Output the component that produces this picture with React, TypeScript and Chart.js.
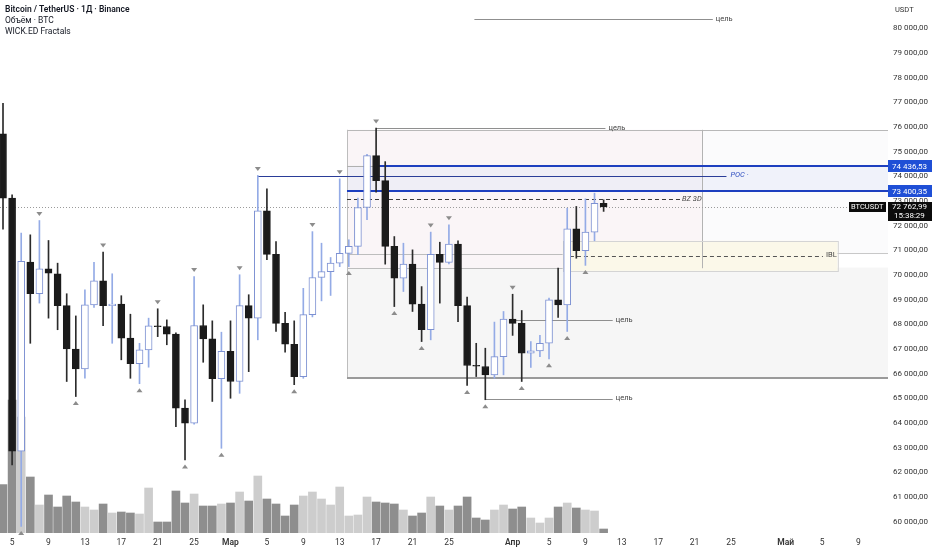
import React, { useEffect, useRef } from 'react';
import { Chart, registerables } from 'chart.js';

Chart.register(...registerables);

// ---- data (daily candles, 4 Feb → 11 Apr) ----
const dayTicks = [1, 5, 9, 13, 17, 21, 25, 29, 33, 37, 41, 45, 49, 56, 60, 64, 68, 72, 76, 80, 86, 90, 94];
const dayTickLabels = ['5', '9', '13', '17', '21', '25', 'Мар', '5', '9', '13', '17', '21', '25', 'Апр', '5', '9', '13', '17', '21', '25', 'Май', '5', '9'];
const priceTicks = [60000, 61000, 62000, 63000, 64000, 65000, 66000, 67000, 68000, 69000, 70000, 71000, 72000, 73000, 74000, 75000, 76000, 77000, 78000, 79000, 80000];

const openP = [75730, 73120, 62850, 70520, 69240, 70250, 70050, 68760, 67000, 66190, 68790, 69760, 68760, 68820, 67440, 66400, 66960, 67940, 67910, 67600, 64600, 63990, 67950, 67410, 65790, 66900, 65680, 68760, 68250, 72600, 70840, 68040, 67190, 65880, 68390, 69900, 70140, 70480, 70880, 71160, 72740, 74840, 73830, 71160, 69870, 70440, 68820, 67780, 70840, 70510, 71250, 68760, 66330, 66290, 65950, 66690, 68210, 68040, 66830, 66920, 67230, 68990, 68790, 71870, 70990, 71740, 72910];
const highP = [76960, 73250, 71700, 71630, 72210, 71400, 70480, 69240, 68340, 69400, 70510, 70930, 70050, 69160, 68410, 67230, 68250, 68630, 68180, 67650, 64940, 69940, 68790, 68140, 67680, 68140, 70010, 69200, 74040, 73500, 71360, 68490, 68140, 69460, 71760, 71290, 70710, 73900, 71430, 73120, 74900, 75960, 74600, 71560, 71290, 71020, 69530, 71740, 71330, 72040, 71390, 69100, 67230, 67030, 68090, 68520, 69220, 68560, 67300, 67550, 69060, 70280, 72710, 72780, 73090, 73320, 73050];
const lowP = [71860, 62300, 59800, 67230, 68860, 68250, 67780, 65680, 65070, 65810, 68690, 67940, 67230, 66560, 65810, 65590, 66260, 67500, 67170, 63850, 62500, 63950, 66460, 64870, 62970, 65000, 65200, 66080, 67370, 70620, 67710, 66870, 65550, 65810, 68300, 68950, 69170, 70340, 70340, 70820, 72240, 73360, 70440, 68720, 69330, 68520, 67300, 67370, 68860, 70450, 68110, 65520, 65880, 64940, 65810, 65950, 67550, 65680, 66250, 66690, 66600, 68280, 67710, 70680, 70390, 71390, 72580];
const closeP = [73120, 62850, 70550, 69240, 70250, 70070, 68760, 67000, 66190, 68790, 69760, 68760, 68820, 67440, 66400, 66960, 67940, 67900, 67600, 64600, 63990, 67950, 67410, 65790, 66900, 65680, 68760, 68250, 72600, 70840, 68040, 67190, 65880, 68390, 69900, 70140, 70480, 70880, 71160, 72740, 74840, 73830, 71160, 69870, 70440, 68820, 67780, 70840, 70510, 71250, 68760, 66330, 66300, 65950, 66690, 68210, 68040, 66830, 66920, 67230, 68990, 68790, 71870, 70990, 71740, 72910, 72762.99];
const volumeK = [48.4, 133, 116, 56, 28, 38, 26, 37, 31, 26, 23, 29, 20, 21, 20, 19, 45, 11, 11, 42, 30, 39, 27, 27, 29, 30, 41, 32, 57, 34, 29, 17, 28, 37, 41, 34, 28, 46, 17, 18, 36, 31, 30, 29, 23, 17, 20, 36, 27, 23, 27, 36, 15, 13, 23, 28, 24, 26, 15, 10, 15, 26, 30, 25, 23, 22, 4];

const fractalHighIdx = [4, 11, 17, 21, 26, 28, 34, 37, 41, 47, 49, 56];
const fractalLowIdx = [2, 8, 15, 20, 24, 32, 38, 43, 46, 51, 53, 57, 60, 62, 64];

const lastPrice = 72762.99;
const blueLevels = [74436.53, 73400.35];
const pocLevel = 74036;
const bz3dLevel = 73091;
const baseLevel = 65813;
const targetLevels = [80394, 75955, 68180, 64990];
const targetFrom = [51.8, 41, 56, 53];
const targetTo = [78, 66.2, 67, 67];
const zoneStart = 37.8;
const pinkZone = [75890, 70275];
const pinkZoneEnd = 76.8;
const innerLines = [70843, 70304];
const innerLinesEnd = 61.5;
const iblZone = [71387, 70170];
const iblFrom = 61.5;
const iblTo = 91.7;
const iblLevel = 70791;
const pocFrom = 28;
const pocTo = 79.5;
const bzTo = 74.4;

const X_MIN = -0.33;
const X_MAX = 97.25;
const Y_MIN = 59534;
const Y_MAX = 81156;

const FONT = 'Roboto, "Liberation Sans", sans-serif';

const fmtPrice = (v: number) => {
  const [i, d] = v.toFixed(2).split('.');
  return i.replace(/\B(?=(\d{3})+(?!\d))/g, ' ') + ',' + d;
};

const overlayPlugin = {
  id: 'overlay',
  beforeDatasetsDraw(chart: any) {
    const { ctx, chartArea: a, scales } = chart;
    const xs = scales.x;
    const ys = scales.y;
    const X = (v: number) => xs.getPixelForValue(v);
    const Y = (v: number) => ys.getPixelForValue(v);
    const R = xs.max;
    ctx.save();
    ctx.beginPath();
    ctx.rect(a.left, a.top, a.right - a.left, a.bottom - a.top);
    ctx.clip();

    const fillBox = (x0: number, x1: number, p0: number, p1: number, fill: string) => {
      ctx.fillStyle = fill;
      ctx.fillRect(X(x0), Y(p0), X(x1) - X(x0), Y(p1) - Y(p0));
    };
    const hline = (p: number, x0: number, x1: number, color: string, w = 1, dash: number[] = []) => {
      ctx.beginPath();
      ctx.setLineDash(dash);
      ctx.strokeStyle = color;
      ctx.lineWidth = w;
      const yy = w % 2 === 1 ? Math.round(Y(p)) + 0.5 : Math.round(Y(p));
      ctx.moveTo(X(x0), yy);
      ctx.lineTo(X(x1), yy);
      ctx.stroke();
      ctx.setLineDash([]);
    };
    const vline = (xv: number, p0: number, p1: number, color: string) => {
      ctx.beginPath();
      ctx.strokeStyle = color;
      ctx.lineWidth = 1;
      const xx = Math.round(X(xv)) + 0.5;
      ctx.moveTo(xx, Y(p0));
      ctx.lineTo(xx, Y(p1));
      ctx.stroke();
    };

    // zones
    fillBox(zoneStart, R, innerLines[1], baseLevel, '#f6f6f6');
    fillBox(zoneStart, pinkZoneEnd, pinkZone[0], pinkZone[1], '#faf5f7');
    fillBox(pinkZoneEnd, R, pinkZone[0], innerLines[0], '#fbfbfc');
    fillBox(zoneStart, R, blueLevels[0], blueLevels[1], 'rgba(214,222,245,0.30)');
    fillBox(iblFrom, iblTo, iblZone[0], iblZone[1], '#fbf8e9');

    // zone borders
    hline(pinkZone[0], zoneStart, R, '#b8b8b8');
    vline(zoneStart, pinkZone[0], baseLevel, '#bdbdbd');
    vline(pinkZoneEnd, pinkZone[0], pinkZone[1], '#b3b3b3');
    hline(innerLines[0], zoneStart, innerLinesEnd, '#bdbdbd');
    hline(innerLines[1], zoneStart, innerLinesEnd, '#bdbdbd');
    ctx.strokeStyle = '#d4d4d4';
    ctx.lineWidth = 1;
    ctx.strokeRect(Math.round(X(iblFrom)) + 0.5, Math.round(Y(iblZone[0])) + 0.5, X(iblTo) - X(iblFrom), Y(iblZone[1]) - Y(iblZone[0]));
    hline(innerLines[0] + 40, iblTo, R, '#c8c8c8');
    hline(iblLevel, iblFrom + 0.8, iblTo - 1.6, '#555555', 1, [4, 3]);

    // levels
    hline(baseLevel, zoneStart, R, '#9a9a9a', 2);
    hline(bz3dLevel, zoneStart, bzTo, '#3a3a3a', 1, [4, 3]);
    hline(pocLevel, pocFrom, pocTo, '#2a3d98', 1);
    hline(blueLevels[0], zoneStart, 41, '#b0b0b0', 1);
    hline(blueLevels[0], 41, R, '#1d3fbf', 2);
    hline(blueLevels[1], zoneStart, R, '#1d3fbf', 2);
    for (let i = 0; i < targetLevels.length; i++) {
      hline(targetLevels[i], targetFrom[i], targetTo[i], '#8f8f8f', 1);
    }
    hline(lastPrice, xs.min, R, '#9a9a9a', 1, [1, 2]);
    ctx.restore();
  },
  afterDatasetsDraw(chart: any) {
    const { ctx, scales } = chart;
    const xs = scales.x;
    const ys = scales.y;
    const X = (v: number) => xs.getPixelForValue(v);
    const Y = (v: number) => ys.getPixelForValue(v);
    ctx.save();
    // fractal markers
    ctx.fillStyle = '#8c8c8c';
    fractalHighIdx.forEach((i) => {
      const cx = X(i);
      const cy = Y(highP[i]) - 6.5;
      ctx.beginPath();
      ctx.moveTo(cx - 3, cy - 2);
      ctx.lineTo(cx + 3, cy - 2);
      ctx.lineTo(cx, cy + 2);
      ctx.closePath();
      ctx.fill();
    });
    fractalLowIdx.forEach((i) => {
      const cx = X(i);
      const cy = Y(lowP[i]) + 6.5;
      ctx.beginPath();
      ctx.moveTo(cx - 3, cy + 2);
      ctx.lineTo(cx + 3, cy + 2);
      ctx.lineTo(cx, cy - 2);
      ctx.closePath();
      ctx.fill();
    });
    // labels
    ctx.textBaseline = 'middle';
    ctx.textAlign = 'left';
    ctx.font = `7.5px ${FONT}`;
    ctx.fillStyle = '#444';
    for (let i = 0; i < targetLevels.length; i++) {
      ctx.fillText('цель', X(targetTo[i]) + 3, Y(targetLevels[i]));
    }
    ctx.fillText('IBL', X(iblTo - 1.6) + 3, Y(iblLevel));
    ctx.font = `italic 7.5px ${FONT}`;
    ctx.fillText('BZ 3D', X(bzTo) + 2, Y(bz3dLevel));
    ctx.fillStyle = '#3050c0';
    ctx.fillText('POC ·', X(pocTo) + 4, Y(pocLevel));
    ctx.restore();
  },
  afterDraw(chart: any) {
    const { ctx, chartArea: a, scales } = chart;
    const ys = scales.y;
    const Y = (v: number) => ys.getPixelForValue(v);
    const W = chart.width;
    ctx.save();
    ctx.textBaseline = 'middle';
    ctx.textAlign = 'left';
    ctx.font = `7.5px ${FONT}`;
    ctx.fillStyle = '#333';
    ctx.fillText('USDT', a.right + 7, 10);
    // blue level boxes
    blueLevels.forEach((p) => {
      const yy = Math.round(Y(p));
      ctx.fillStyle = '#1f4fd6';
      ctx.fillRect(a.right, yy - 6, W - a.right, 12);
      ctx.fillStyle = '#fff';
      ctx.font = `8px ${FONT}`;
      ctx.fillText(fmtPrice(p), a.right + 4, yy + 0.5);
    });
    // current price box
    const yl = Math.round(Y(lastPrice));
    ctx.fillStyle = '#0b0b0b';
    ctx.fillRect(a.right, yl - 5, W - a.right, 19);
    ctx.fillStyle = '#fff';
    ctx.font = `8px ${FONT}`;
    ctx.fillText(fmtPrice(lastPrice), a.right + 4, yl);
    ctx.fillText('15:38:29', a.right + 6, yl + 8.5);
    // symbol tag
    ctx.fillStyle = '#0b0b0b';
    ctx.fillRect(a.right - 39, yl - 5, 37, 10);
    ctx.fillStyle = '#fff';
    ctx.font = `7.5px ${FONT}`;
    ctx.fillText('BTCUSDT', a.right - 37, yl + 0.5);
    ctx.restore();
  },
};

export default function App() {
  const ref = useRef<HTMLCanvasElement | null>(null);

  useEffect(() => {
    if (!ref.current) return;
    const idx = openP.map((_, i) => i);
    const up = idx.map((i) => closeP[i] >= openP[i]);
    const chart = new Chart(ref.current, {
      type: 'bar',
      data: {
        datasets: [
          {
            label: 'bodies',
            data: idx.map((i) => ({ x: i, y: [openP[i], closeP[i]] })) as any,
            backgroundColor: up.map((u) => (u ? '#ffffff' : '#1b1b1b')),
            borderColor: up.map((u) => (u ? '#7d91d2' : '#1b1b1b')),
            borderWidth: 1,
            borderSkipped: false,
            grouped: false,
            categoryPercentage: 1,
            barPercentage: 1,
            maxBarThickness: 7,
            minBarLength: 1,
            yAxisID: 'y',
            order: 1,
          },
          {
            label: 'wicks',
            data: idx.map((i) => ({ x: i, y: [lowP[i], highP[i]] })) as any,
            backgroundColor: up.map((u) => (u ? '#94abe6' : '#2b2b2b')),
            borderWidth: 0,
            grouped: false,
            categoryPercentage: 1,
            barPercentage: 1,
            maxBarThickness: 1,
            yAxisID: 'y',
            order: 2,
          },
          {
            label: 'volume',
            data: idx.map((i) => ({ x: i, y: volumeK[i] })) as any,
            backgroundColor: up.map((u) => (u ? '#cdcdcd' : '#8e8e8e')),
            borderWidth: 0,
            grouped: false,
            categoryPercentage: 1,
            barPercentage: 1,
            maxBarThickness: 8,
            yAxisID: 'yv',
            order: 3,
          },
        ],
      },
      options: {
        animation: false,
        responsive: false,
        events: [],
        layout: { padding: 0 },
        plugins: { legend: { display: false }, tooltip: { enabled: false } },
        scales: {
          x: {
            type: 'linear',
            min: X_MIN,
            max: X_MAX,
            offset: false,
            grid: { display: false, drawTicks: false },
            border: { display: false },
            afterBuildTicks: (s: any) => {
              s.ticks = dayTicks.map((v) => ({ value: v }));
            },
            afterFit: (s: any) => {
              s.height = 17;
              s.paddingLeft = 0;
              s.paddingRight = 0;
            },
            ticks: {
              autoSkip: false,
              maxRotation: 0,
              padding: 5,
              color: '#333',
              font: (c: any) => ({
                family: FONT,
                size: 8.5,
                weight: c.index !== undefined && /[А-я]/.test(dayTickLabels[c.index] || '') ? '600' : '400',
              }),
              callback: (_v: any, i: number) => dayTickLabels[i],
            },
          },
          y: {
            type: 'linear',
            position: 'right',
            min: Y_MIN,
            max: Y_MAX,
            grid: { display: false, drawTicks: false },
            border: { display: false },
            afterBuildTicks: (s: any) => {
              s.ticks = priceTicks.map((v) => ({ value: v }));
            },
            afterFit: (s: any) => {
              s.width = 44;
              s.paddingTop = 0;
              s.paddingBottom = 0;
            },
            ticks: {
              padding: 5,
              color: '#333',
              font: { family: FONT, size: 8 },
              callback: (v: any) => fmtPrice(Number(v)),
            },
          },
          yv: {
            display: false,
            min: 0,
            max: 533,
          },
        },
      } as any,
      plugins: [overlayPlugin],
    });
    return () => chart.destroy();
  }, []);

  return (
    <div style={{ position: 'fixed', left: 0, top: 0, width: 932, height: 550, background: '#ffffff', overflow: 'hidden' }}>
      <canvas ref={ref} width={932} height={550} style={{ display: 'block' }} />
      <div
        style={{
          position: 'absolute',
          left: 5,
          top: 4,
          fontFamily: FONT,
          fontSize: 8.5,
          lineHeight: '11px',
          color: '#131722',
          whiteSpace: 'nowrap',
        }}
      >
        <div style={{ fontWeight: 600 }}>Bitcoin / TetherUS · 1Д · Binance</div>
        <div>Объём · BTC</div>
        <div>WICK.ED Fractals</div>
      </div>
    </div>
  );
}
